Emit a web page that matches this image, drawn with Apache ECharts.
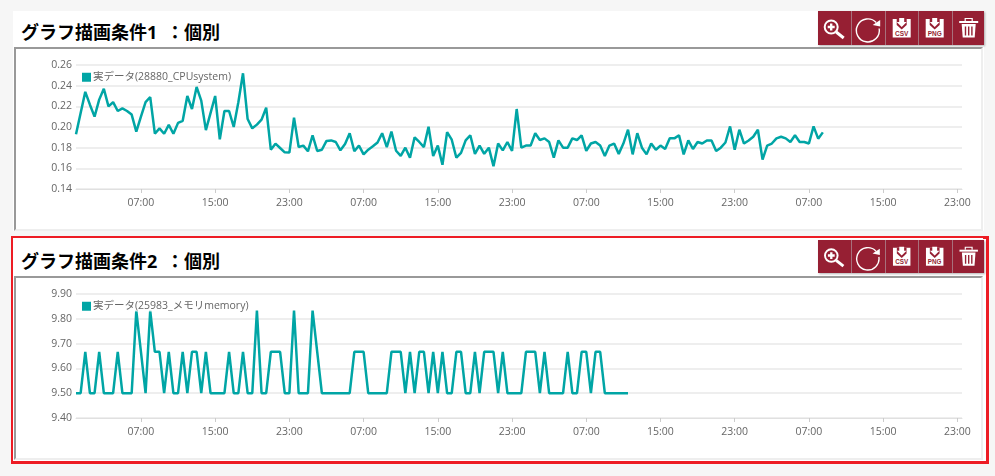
<!DOCTYPE html>
<html>
<head>
<meta charset="utf-8">
<title>グラフ描画条件</title>
<script src="https://cdn.jsdelivr.net/npm/echarts@6/dist/echarts.min.js"></script>
<style>
html, body { margin: 0; padding: 0; width: 995px; height: 476px; overflow: hidden; background: #f6f6f6; font-family: "Open Sans", "Noto Sans CJK JP", sans-serif; }
.panel { position: absolute; left: 13px; width: 971px; background: #fff; }
#panel1 { top: 11px; height: 220px; }
#panel2 { top: 238px; height: 223px; }
#frame2 { position: absolute; left: 11px; top: 236px; width: 972px; height: 222px; border: 3px solid #ed1c24; background: #fff; }
.panel h3 { position: absolute; left: 8px; top: 9px; margin: 0; font-size: 18px; line-height: 24px; font-weight: 700; color: #000; white-space: pre; word-spacing: 4px; }
#panel2 h3 { top: 11px; }
.box { position: absolute; left: 1px; width: 969px; background: #fff; border-top: 2px solid #999; border-left: 2px solid #999; border-right: 2px solid #eee; border-bottom: 2px solid #eee; box-sizing: border-box; }
#panel1 .box { top: 36px; height: 184px; }
#panel2 .box { top: 38px; height: 184px; }
.tools { position: absolute; left: 805px; top: 0; width: 166px; height: 34px; background: #961f33; display: flex; box-shadow: 1px 1px 2px rgba(0,0,0,.3); }
#panel2 .tools { top: 2px; height: 33px; }
.tools svg { width: 33px; height: 34px; display: block; border-right: 1px solid #a8707c; box-sizing: content-box; margin-right: -1px; flex: 0 0 33.4px; }
#panel2 .tools svg { height: 33px; }
.tools svg:last-child { border-right: 0; }
.chart { position: absolute; left: 0; top: 0; width: 965px; height: 180px; }
</style>
</head>
<body>
<svg width="0" height="0" style="position:absolute">
  <defs>
    <g id="i-zoom" fill="none" stroke="#fff">
      <circle cx="13" cy="16" r="6.500" stroke-width="2"/>
      <path d="M9.500 16h7M13 12.500v7" stroke-width="2.400"/>
      <path d="M18 21l7.500 6" stroke-width="3"/>
    </g>
    <g id="i-reload" fill="none" stroke="#fff">
      <path d="M25 11.500A11.500 11.500 0 1 0 28 17.500" stroke-width="1.400"/>
      <path d="M21.500 14L29 9V15.500Z" fill="#fff" stroke="none"/>
    </g>
    <g id="i-save">
      <rect x="7.500" y="8" width="18" height="18.500" fill="#fff"/>
      <path d="M11.500 8h10v6l-5 4.500-5-4.500Z" fill="#961f33"/>
      <path d="M14 7h5v4h2.500l-5 5-5-5H14Z" fill="#fff"/>
    </g>
    <g id="i-trash" fill="none" stroke="#fff">
      <path d="M7 11h19" stroke-width="2"/>
      <path d="M13 10V7.500h7V10" stroke-width="1.200"/>
      <path d="M9.500 13h14l-1 13.500h-12Z" fill="#fff" stroke="none"/>
      <path d="M13.300 15.500v9M16.500 15.500v9M19.700 15.500v9" stroke="#961f33" stroke-width="1.400"/>
    </g>
  </defs>
</svg>

<div id="frame2"></div>
<div class="panel" id="panel1">
  <h3>グラフ描画条件1 ：個別</h3>
  <div class="tools" data-tools></div>
  <div class="box"><div class="chart" id="chart1"></div></div>
</div>
<div class="panel" id="panel2" style="width:970px">
  <h3>グラフ描画条件2 ：個別</h3>
  <div class="tools" data-tools></div>
  <div class="box"><div class="chart" id="chart2"></div></div>
</div>

<script>
// 軸ラベル
var tickLabels = ['07:00', '15:00', '23:00'];
var timeSlots = [];
for (var h = 0; h < 96; h++) {
	var hh = (h % 24 < 10 ? '0' : '') + (h % 24);
	timeSlots.push(hh + ':00', hh + ':30');
}

var cpuName = '実データ(28880_CPUsystem)';
var cpuValues = [
	0.193, 0.2135, 0.234, 0.2216, 0.21, 0.2265, 0.237, 0.22, 0.224, 0.2155,
	0.218, 0.2155, 0.212, 0.1955, 0.21, 0.224, 0.229, 0.1935, 0.1987, 0.1935,
	0.202, 0.1935, 0.204, 0.206, 0.23, 0.2174, 0.2387, 0.2255, 0.197, 0.2135,
	0.23, 0.188, 0.2155, 0.2155, 0.2, 0.224, 0.252, 0.2077, 0.1987, 0.2023,
	0.2071, 0.2187, 0.178, 0.1839, 0.1797, 0.1755, 0.1752, 0.209, 0.1806, 0.182,
	0.1765, 0.192, 0.1768, 0.178, 0.1865, 0.187, 0.1855, 0.1774, 0.1835, 0.194,
	0.1765, 0.182, 0.1735, 0.178, 0.1813, 0.185, 0.194, 0.1806, 0.1955, 0.177,
	0.172, 0.18, 0.1703, 0.19, 0.1855, 0.1806, 0.2003, 0.172, 0.182, 0.1635,
	0.195, 0.1877, 0.1703, 0.175, 0.187, 0.192, 0.174, 0.182, 0.174, 0.18,
	0.162, 0.184, 0.1774, 0.1855, 0.1768, 0.2174, 0.18, 0.182, 0.182, 0.194,
	0.1874, 0.189, 0.1855, 0.1703, 0.187, 0.18, 0.18, 0.189, 0.1874, 0.192,
	0.177, 0.184, 0.1855, 0.182, 0.172, 0.182, 0.184, 0.174, 0.184, 0.1974,
	0.1735, 0.194, 0.18, 0.1735, 0.184, 0.178, 0.182, 0.1787, 0.189, 0.189,
	0.192, 0.1735, 0.187, 0.1787, 0.1855, 0.184, 0.187, 0.187, 0.1768, 0.18,
	0.185, 0.2006, 0.178, 0.1974, 0.184, 0.187, 0.1906, 0.1974, 0.1684, 0.182,
	0.184, 0.189, 0.1906, 0.189, 0.1855, 0.192, 0.1855, 0.1855, 0.184, 0.2006,
	0.1887, 0.1948
];

var memName = '実データ(25983_メモリmemory)';
var memValues = [
	9.5, 9.5, 9.667, 9.5, 9.5, 9.667, 9.5, 9.5, 9.5, 9.667,
	9.5, 9.5, 9.5, 9.833, 9.667, 9.5, 9.833, 9.667, 9.667, 9.5,
	9.667, 9.5, 9.5, 9.667, 9.5, 9.667, 9.667, 9.5, 9.667, 9.5,
	9.5, 9.5, 9.5, 9.667, 9.5, 9.5, 9.667, 9.5, 9.5, 9.833,
	9.5, 9.5, 9.667, 9.667, 9.667, 9.5, 9.5, 9.833, 9.5, 9.5,
	9.5, 9.833, 9.667, 9.5, 9.5, 9.5, 9.5, 9.5, 9.5, 9.5,
	9.667, 9.667, 9.667, 9.5, 9.5, 9.5, 9.5, 9.5, 9.667, 9.667,
	9.667, 9.5, 9.667, 9.5, 9.667, 9.667, 9.5, 9.667, 9.5, 9.667,
	9.5, 9.5, 9.667, 9.667, 9.5, 9.5, 9.667, 9.5, 9.667, 9.667,
	9.667, 9.5, 9.667, 9.5, 9.5, 9.5, 9.5, 9.667, 9.667, 9.667,
	9.5, 9.667, 9.5, 9.5, 9.5, 9.5, 9.667, 9.5, 9.5, 9.667,
	9.667, 9.5, 9.667, 9.667, 9.5, 9.5, 9.5, 9.5, 9.5, 9.5
];

var lineColor = '#00a5a5';
var textColor = '#666';
var fontName = '"Open Sans", "Noto Sans CJK JP", sans-serif';

function isTick(index, value) {
	return tickLabels.indexOf(value) >= 0;
}

function makeOption(name, values, yMin, yMax, yStep) {
	return {
		animation: false,
		textStyle: { fontFamily: fontName },
		legend: {
			data: [name],
			left: 66,
			top: 23,
			padding: 0,
			icon: 'rect',
			itemWidth: 9,
			itemHeight: 9,
			backgroundColor: 'rgba(255,255,255,0.7)',
			textStyle: { color: textColor, fontSize: 10.5, fontFamily: fontName, padding: [0, 0, 0, -3] }
		},
		grid: { left: 60, right: 19, top: 16, height: 124 },
		xAxis: {
			type: 'category',
			boundaryGap: false,
			data: timeSlots,
			axisLine: { lineStyle: { color: '#e0e0e0' } },
			axisTick: { interval: isTick, length: 4, lineStyle: { color: '#ccc' } },
			axisLabel: { interval: isTick, color: textColor, fontSize: 10.5, margin: 9 },
			splitLine: { show: false }
		},
		yAxis: {
			type: 'value',
			min: yMin,
			max: yMax,
			interval: yStep,
			axisLine: { show: false },
			axisTick: { show: false },
			axisLabel: {
				color: textColor,
				fontSize: 10.5,
				margin: 4,
				formatter: function(v) { return v.toFixed(2); }
			},
			splitLine: { lineStyle: { color: '#e8e8e8', width: 1.5 } }
		},
		series: [{
			name: name,
			type: 'line',
			data: values,
			showSymbol: false,
			itemStyle: { color: lineColor },
			lineStyle: { color: lineColor, width: 2.5 }
		}]
	};
}

var iconIds = ['i-zoom', 'i-reload', 'i-save', 'i-save', 'i-trash'];
var saveLabels = { 2: 'CSV', 3: 'PNG' };
document.querySelectorAll('[data-tools]').forEach(function(box) {
	box.innerHTML = iconIds.map(function(id, i) {
		var label = saveLabels[i]
			? '<text x="16.5" y="25" font-size="6.5" font-weight="700" text-anchor="middle" fill="#961f33" font-family="Liberation Sans">' + saveLabels[i] + '</text>'
			: '';
		return '<svg viewBox="0 0 33 34"><use href="#' + id + '"/>' + label + '</svg>';
	}).join('');
});

echarts.init(document.getElementById('chart1')).setOption(makeOption(cpuName, cpuValues, 0.14, 0.26, 0.02));
echarts.init(document.getElementById('chart2')).setOption(makeOption(memName, memValues, 9.4, 9.9, 0.1));
</script>
</body>
</html>
